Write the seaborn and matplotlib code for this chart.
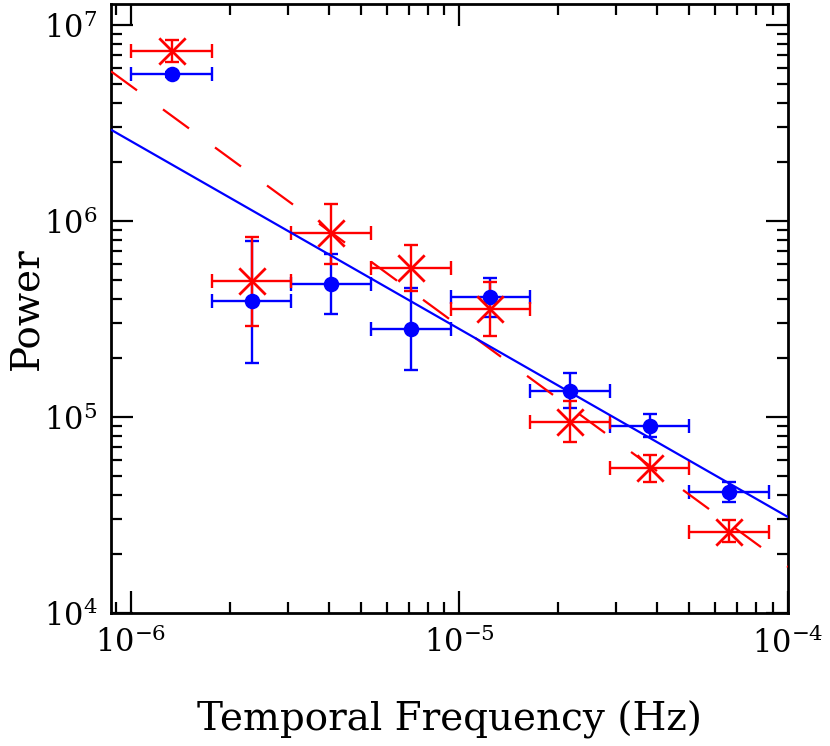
import numpy as np
import pandas as pd
import matplotlib
matplotlib.use("Agg")
import matplotlib.pyplot as plt
import seaborn as sns

sns.set_theme(style="ticks")
plt.rcParams['font.family'] = ['DejaVu Serif']
plt.rcParams['mathtext.fontset'] = 'dejavuserif'
plt.rcParams['text.color'] = 'black'
plt.rcParams['axes.labelcolor'] = 'black'
plt.rcParams['xtick.color'] = 'black'
plt.rcParams['ytick.color'] = 'black'

# frequency bins (Hz)
freq = [1.33e-6, 2.33e-6, 4.07e-6, 7.1e-6, 1.24e-5, 2.17e-5, 3.79e-5, 6.62e-5]
freq_lo = [1.0e-6, 1.76e-6, 3.08e-6, 5.37e-6, 9.4e-6, 1.64e-5, 2.87e-5, 5.01e-5]
freq_hi = [1.76e-6, 3.08e-6, 5.37e-6, 9.4e-6, 1.64e-5, 2.87e-5, 5.01e-5, 8.75e-5]

# blue series (filled circles)
blue_pow = [5.6e6, 3.9e5, 4.77e5, 2.81e5, 4.09e5, 1.36e5, 9.0e4, 4.14e4]
blue_top = [5.75e6, 7.9e5, 6.8e5, 4.55e5, 5.1e5, 1.68e5, 1.04e5, 4.66e4]
blue_bot = [5.45e6, 1.89e5, 3.36e5, 1.74e5, 3.24e5, 1.11e5, 7.9e4, 3.68e4]

# red series (crosses)
red_pow = [7.36e6, 4.94e5, 8.68e5, 5.75e5, 3.56e5, 9.43e4, 5.5e4, 2.59e4]
red_top = [8.4e6, 8.28e5, 1.22e6, 7.55e5, 4.89e5, 1.21e5, 6.4e4, 2.98e4]
red_bot = [6.47e6, 2.91e5, 6.04e5, 4.4e5, 2.59e5, 7.45e4, 4.66e4, 2.3e4]

# power-law fits: norm at 1e-5 Hz and slope
blue_norm, blue_slope = 2.81e5, -0.959
red_norm, red_slope = 2.9e5, -1.227

xlim = (8.7e-7, 1e-4)
ylim = (1e4, 1.28e7)

df = pd.DataFrame({
    'freq': freq * 2,
    'power': blue_pow + red_pow,
    'set': ['blue'] * len(freq) + ['red'] * len(freq),
})

fig = plt.figure(figsize=(8.3, 7.46), dpi=100)
ax = fig.add_axes([111 / 830, 1 - 613 / 746, (788 - 111) / 830, (613 - 4) / 746])

f = np.array(freq)
xerr = [f - np.array(freq_lo), np.array(freq_hi) - f]

for pw, top, bot, col in [(blue_pow, blue_top, blue_bot, 'blue'),
                          (red_pow, red_top, red_bot, 'red')]:
    p = np.array(pw)
    ax.errorbar(f, p, xerr=xerr, yerr=[p - np.array(bot), np.array(top) - p],
                fmt='none', ecolor=col, elinewidth=1.7, capsize=5, capthick=1.7,
                zorder=2)

sns.scatterplot(data=df[df['set'] == 'blue'], x='freq', y='power', ax=ax,
                marker='o', s=125, color='blue', edgecolor='blue', linewidth=0,
                zorder=3, legend=False)
sns.scatterplot(data=df[df['set'] == 'red'], x='freq', y='power', ax=ax,
                marker='x', s=360, color='red', linewidth=2.0,
                zorder=4, legend=False)

xs = np.logspace(np.log10(xlim[0]), np.log10(xlim[1]), 200)
fits = pd.DataFrame({
    'x': xs,
    'blue': blue_norm * (xs / 1e-5) ** blue_slope,
    'red': red_norm * (xs / 1e-5) ** red_slope,
})
ax.plot(fits['x'], fits['red'], color='red', lw=1.6,
        linestyle=(0, (14.5, 14.5)), zorder=5)
sns.lineplot(data=fits, x='x', y='blue', ax=ax, color='blue', lw=1.6,
             zorder=6, estimator=None)

ax.set_xscale('log')
ax.set_yscale('log')
ax.set_xlim(*xlim)
ax.set_ylim(*ylim)

for s in ax.spines.values():
    s.set_linewidth(2.0)
    s.set_color('black')
    s.set_visible(True)

ax.tick_params(which='both', direction='in', top=True, right=True,
               color='black', width=1.6, labelsize=22, pad=10)
ax.tick_params(which='major', length=16)
ax.tick_params(which='minor', length=8)
ax.xaxis.set_minor_locator(matplotlib.ticker.LogLocator(base=10, subs=np.arange(2, 10), numticks=20))
ax.yaxis.set_minor_locator(matplotlib.ticker.LogLocator(base=10, subs=np.arange(2, 10), numticks=20))
ax.xaxis.set_minor_formatter(matplotlib.ticker.NullFormatter())
ax.yaxis.set_minor_formatter(matplotlib.ticker.NullFormatter())

ax.set_xlabel('Temporal Frequency (Hz)', fontsize=28)
ax.set_ylabel('Power', fontsize=28)
ax.xaxis.set_label_coords(0.5, -0.144)
ax.yaxis.set_label_coords(-0.097, 0.5)
ax.grid(False)

fig.savefig('out.png', dpi=100)
